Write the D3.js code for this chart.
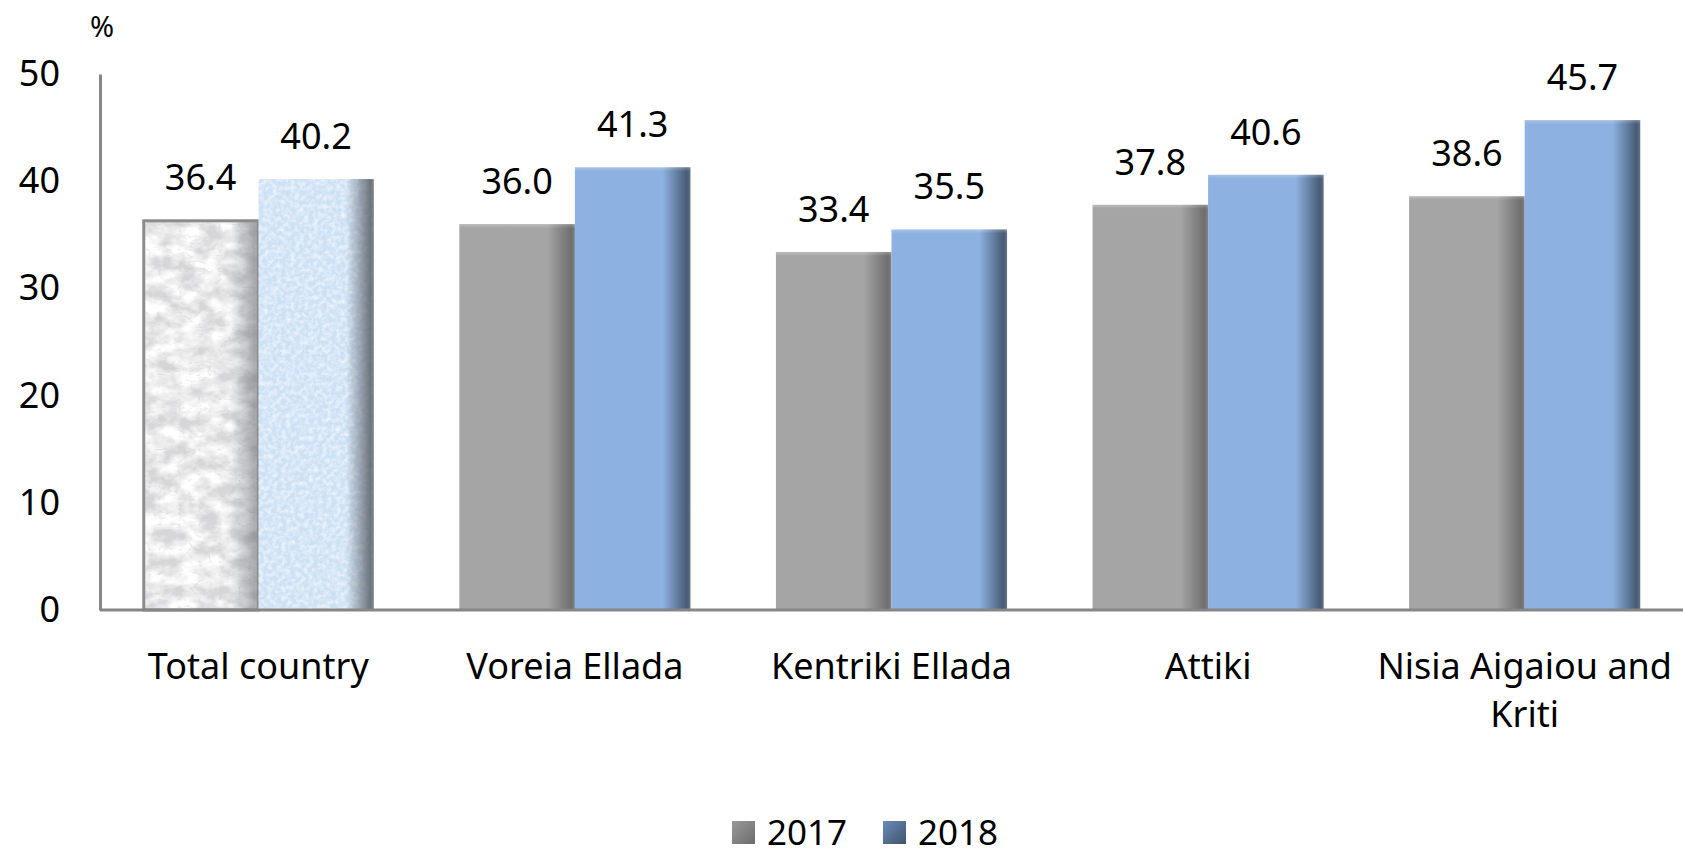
<!DOCTYPE html>
<meta charset="utf-8">
<head>
  <style>
    body { margin: 0; background: #fff; }
    text { font-family: "Noto Sans", "Open Sans", sans-serif; fill: #000; }
  </style>
</head>
<body>
  <div class="chart"></div>
  <script src="https://d3js.org/d3.v7.min.js"></script>
  <script>
    // data
    var categories = ["Total country", "Voreia Ellada", "Kentriki Ellada", "Attiki", "Nisia Aigaiou and Kriti"];
    var years = ["2017", "2018"];
    var values2017 = [36.4, 36.0, 33.4, 37.8, 38.6];
    var values2018 = [40.2, 41.3, 35.5, 40.6, 45.7];
    var yTicks = [0, 10, 20, 30, 40, 50];

    var width = 1683, height = 856;
    var mLeft = 100, mRight = 1683, mTop = 74, mBottom = 610;

    var svg = d3.select(".chart").append("svg")
      .attr("width", width)
      .attr("height", height);

    var defs = svg.append("defs");

    // side shading, like the office 3d bevel
    function shade(id, base, dark) {
      var g = defs.append("linearGradient").attr("id", id)
        .attr("x1", "0").attr("x2", "1").attr("y1", "0").attr("y2", "0");
      g.append("stop").attr("offset", "0").attr("stop-color", base);
      g.append("stop").attr("offset", "0.76").attr("stop-color", base);
      g.append("stop").attr("offset", "0.97").attr("stop-color", dark);
      g.append("stop").attr("offset", "1").attr("stop-color", dark).attr("stop-opacity", 0.85);
    }
    shade("shade2017", "#a5a5a5", "#6e6e6e");
    shade("shade2018", "#8db1e0", "#475b75");

    // overlay shading for the textured bars (transparent -> dark)
    var ov = defs.append("linearGradient").attr("id", "shadeOver")
      .attr("x1", "0").attr("x2", "1").attr("y1", "0").attr("y2", "0");
    ov.append("stop").attr("offset", "0").attr("stop-color", "#5a6068").attr("stop-opacity", 0);
    ov.append("stop").attr("offset", "0.76").attr("stop-color", "#5a6068").attr("stop-opacity", 0);
    ov.append("stop").attr("offset", "0.97").attr("stop-color", "#5a6068").attr("stop-opacity", 0.85);
    ov.append("stop").attr("offset", "1").attr("stop-color", "#5a6068").attr("stop-opacity", 0.7);

    var top2 = defs.append("linearGradient").attr("id", "topLight")
      .attr("x1", "0").attr("x2", "0").attr("y1", "0").attr("y2", "1");
    top2.append("stop").attr("offset", "0").attr("stop-color", "#fff").attr("stop-opacity", 0.25);
    top2.append("stop").attr("offset", "1").attr("stop-color", "#fff").attr("stop-opacity", 0);

    // legend swatches
    var lg1 = defs.append("linearGradient").attr("id", "leg2017")
      .attr("x1", "0").attr("x2", "1").attr("y1", "0").attr("y2", "1");
    lg1.append("stop").attr("offset", "0").attr("stop-color", "#9a9a9a");
    lg1.append("stop").attr("offset", "1").attr("stop-color", "#6c6c6c");
    var lg2 = defs.append("linearGradient").attr("id", "leg2018")
      .attr("x1", "0").attr("x2", "1").attr("y1", "0").attr("y2", "1");
    lg2.append("stop").attr("offset", "0").attr("stop-color", "#6a8cb8");
    lg2.append("stop").attr("offset", "1").attr("stop-color", "#40536d");

    // marble texture: white blotches plus gray veins on a light gray base
    var fm = defs.append("filter").attr("id", "marble")
      .attr("x", 0).attr("y", 0).attr("width", 1).attr("height", 1);
    fm.append("feTurbulence").attr("type", "fractalNoise")
      .attr("baseFrequency", "0.05 0.07").attr("numOctaves", 4).attr("seed", 11).attr("result", "f");
    fm.append("feColorMatrix").attr("in", "f").attr("type", "matrix")
      .attr("values", "0 0 0 0 1  0 0 0 0 1  0 0 0 0 1  2.2 0 0 0 -0.6")
      .attr("result", "blot");
    fm.append("feTurbulence").attr("type", "turbulence")
      .attr("baseFrequency", "0.05 0.08").attr("numOctaves", 3).attr("seed", 5).attr("result", "t");
    fm.append("feColorMatrix").attr("in", "t").attr("type", "matrix")
      .attr("values", "0 0 0 0 0.62  0 0 0 0 0.62  0 0 0 0 0.64  -4 0 0 0 0.6")
      .attr("result", "veins");
    var fmm = fm.append("feMerge").attr("result", "m");
    fmm.append("feMergeNode").attr("in", "SourceGraphic");
    fmm.append("feMergeNode").attr("in", "blot");
    fmm.append("feMergeNode").attr("in", "veins");
    fm.append("feComposite").attr("in", "m").attr("in2", "SourceGraphic").attr("operator", "in");

    // speckled light blue texture
    var fs = defs.append("filter").attr("id", "speckle")
      .attr("x", 0).attr("y", 0).attr("width", 1).attr("height", 1);
    fs.append("feTurbulence").attr("type", "fractalNoise")
      .attr("baseFrequency", "0.22").attr("numOctaves", 3).attr("seed", 2).attr("result", "n");
    fs.append("feColorMatrix").attr("in", "n").attr("type", "matrix")
      .attr("values", "0 0 0 0 0.93  0 0 0 0 0.96  0 0 0 0 1  1.6 0 0 0 -0.6")
      .attr("result", "sp");
    var fsm = fs.append("feMerge").attr("result", "m");
    fsm.append("feMergeNode").attr("in", "SourceGraphic");
    fsm.append("feMergeNode").attr("in", "sp");
    fs.append("feComposite").attr("in", "m").attr("in2", "SourceGraphic").attr("operator", "in");

    var data = categories.map(function (c, i) {
      return { cat: c, idx: i, vals: [values2017[i], values2018[i]] };
    });

    var x0 = d3.scaleBand().domain(categories).range([mLeft, mRight]).padding(0);
    var groupW = x0.bandwidth() * 0.73;
    var x1 = d3.scaleBand().domain(years)
      .range([(x0.bandwidth() - groupW) / 2, (x0.bandwidth() + groupW) / 2]);
    var y = d3.scaleLinear().domain([0, 50]).range([mBottom, mTop]);

    // y axis
    var yAxis = svg.append("g")
      .attr("transform", "translate(" + mLeft + ",0)")
      .call(d3.axisLeft(y).tickValues(yTicks).tickSize(0).tickPadding(40));
    yAxis.select(".domain").attr("stroke", "#868686").attr("stroke-width", 3);
    yAxis.selectAll(".tick text")
      .style("font-family", "'Noto Sans', sans-serif")
      .style("font-size", "36px")
      .attr("fill", "#000");

    svg.append("text")
      .attr("x", mLeft + 2).attr("y", 37)
      .attr("text-anchor", "middle")
      .style("font-size", "29px")
      .text("%");

    // bars
    var group = svg.selectAll(".grp")
      .data(data)
      .enter().append("g")
      .attr("class", "grp")
      .attr("transform", function (d) { return "translate(" + x0(d.cat) + ",0)"; });

    group.each(function (d) {
      var g = d3.select(this);
      years.forEach(function (yr, j) {
        var v = d.vals[j];
        var bx = x1(yr), bw = x1.bandwidth(), by = y(v), bh = y(0) - y(v);
        if (d.idx === 0) {
          // the total country bars are textured
          g.append("rect")
            .attr("x", bx).attr("y", by).attr("width", bw).attr("height", bh)
            .attr("fill", j === 0 ? "#d6d6d8" : "#cde1f5")
            .attr("filter", j === 0 ? "url(#marble)" : "url(#speckle)");
          g.append("rect")
            .attr("x", bx).attr("y", by).attr("width", bw).attr("height", bh)
            .attr("fill", "url(#shadeOver)")
            .attr("opacity", j === 0 ? 0.6 : 1);
          if (j === 0) {
            g.append("rect")
              .attr("x", bx + 1).attr("y", by + 1).attr("width", bw - 1).attr("height", bh - 1)
              .attr("fill", "none").attr("stroke", "#8c8c8c").attr("stroke-width", 3);
          }
        } else {
          g.append("rect")
            .attr("x", bx).attr("y", by).attr("width", bw).attr("height", bh)
            .attr("fill", j === 0 ? "url(#shade2017)" : "url(#shade2018)");
          g.append("rect")
            .attr("x", bx).attr("y", by).attr("width", bw).attr("height", 4)
            .attr("fill", "url(#topLight)");
        }
        g.append("text")
          .attr("x", bx + bw / 2)
          .attr("y", by - 30)
          .attr("text-anchor", "middle")
          .style("font-size", "36px")
          .text(v.toFixed(1));
      });
    });

    // x axis line
    svg.append("line")
      .attr("x1", mLeft).attr("x2", mRight)
      .attr("y1", mBottom).attr("y2", mBottom)
      .attr("stroke", "#868686").attr("stroke-width", 3);

    // category labels, wrapped to the band
    var labels = svg.selectAll(".cat")
      .data(categories)
      .enter().append("text")
      .attr("class", "cat")
      .attr("x", function (d) { return x0(d) + x0.bandwidth() / 2; })
      .attr("y", 679)
      .attr("text-anchor", "middle")
      .style("font-size", "36px")
      .text(function (d) { return d; });

    labels.each(function (d) {
      var t = d3.select(this);
      var words = d.split(" "), line = [];
      var xx = t.attr("x");
      t.text(null);
      var span = t.append("tspan").attr("x", xx);
      words.forEach(function (w) {
        line.push(w);
        span.text(line.join(" "));
        if (span.node().getComputedTextLength() > x0.bandwidth() - 10 && line.length > 1) {
          line.pop();
          span.text(line.join(" "));
          line = [w];
          span = t.append("tspan").attr("x", xx).attr("dy", 48).text(w);
        }
      });
    });

    // legend
    var legend = svg.append("g").attr("transform", "translate(732,821)");
    var legItems = [
      { name: years[0], fill: "url(#leg2017)", x: 0 },
      { name: years[1], fill: "url(#leg2018)", x: 151 }
    ];
    var li = legend.selectAll(".leg")
      .data(legItems)
      .enter().append("g")
      .attr("transform", function (d) { return "translate(" + d.x + ",0)"; });
    li.append("rect")
      .attr("width", 23).attr("height", 23)
      .attr("fill", function (d) { return d.fill; });
    li.append("text")
      .attr("x", 35).attr("y", 24)
      .style("font-size", "35px")
      .text(function (d) { return d.name; });
  </script>
</body>
